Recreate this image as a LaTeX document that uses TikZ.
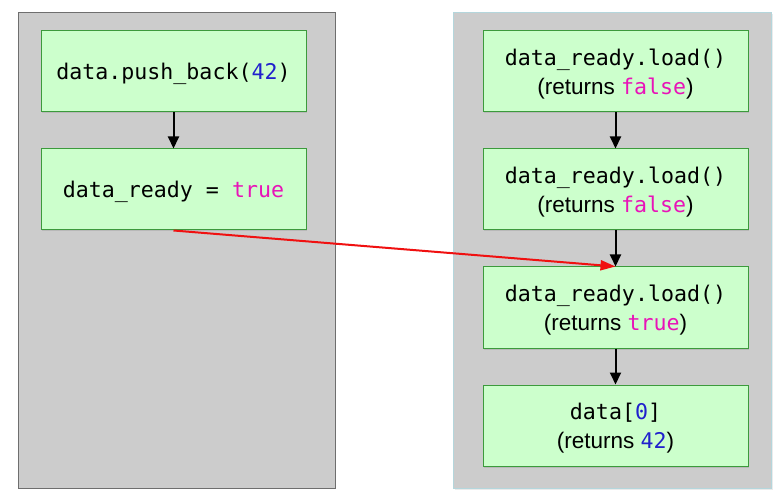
\documentclass[tikz,border=0pt]{standalone}
\usepackage{fontspec}
\setmainfont{Liberation Sans}
\setsansfont{Liberation Sans}
\setmonofont[Scale=0.96]{DejaVu Sans Mono}
\usetikzlibrary{arrows.meta,shadows}
\definecolor{panelfill}{HTML}{CCCCCC}
\definecolor{leftborder}{HTML}{6E6E6E}
\definecolor{rightborder}{HTML}{B4D6DC}
\definecolor{boxfill}{HTML}{CCFFCC}
\definecolor{boxborder}{HTML}{3C9A3C}
\definecolor{numblue}{HTML}{2020CC}
\definecolor{kwmag}{HTML}{E814B8}
\definecolor{arrred}{HTML}{F01010}
\newcommand{\num}[1]{\textcolor{numblue}{#1}}
\newcommand{\kw}[1]{\textcolor{kwmag}{#1}}
\begin{document}
\begin{tikzpicture}[x=1pt,y=-1pt,
  panel/.style={fill=panelfill, line width=1pt},
  opbox/.style={rectangle, draw=boxborder, fill=boxfill, line width=1pt,
    minimum width=265pt, minimum height=81pt, inner sep=0pt, align=center,
    text depth=0pt,
    font=\fontsize{22.5}{29}\selectfont,
    drop shadow={opacity=0.25, shadow xshift=1pt, shadow yshift=-1.5pt}},
  flow/.style={line width=2pt, -{Triangle[length=12pt,width=11pt]}},
  sync/.style={line width=2pt, draw=arrred, -{Triangle[length=15pt,width=10pt]}}
]
\useasboundingbox (0,0) rectangle (784,494);
\fill[white] (0,0) rectangle (784,494);
% panels
\draw[panel, draw=leftborder] (18.5,12.5) rectangle (335.5,488.5);
\fill[black, opacity=0.08] (455,14) rectangle (773,490);
\draw[panel, draw=rightborder] (453.5,12.5) rectangle (771.5,488.5);
% left thread
\node[opbox] (a1) at (173.5,71.5) {\texttt{data.push\_back(\num{42})}};
\node[opbox] (a2) at (173.5,189.5) {\texttt{data\_ready = \kw{true}}};
% right thread
\node[opbox] (b1) at (615.5,71.5) {\texttt{data\_ready.load()}\\(returns \texttt{\kw{false}})};
\node[opbox] (b2) at (615.5,189.5) {\texttt{data\_ready.load()}\\(returns \texttt{\kw{false}})};
\node[opbox] (b3) at (615.5,307.5) {\texttt{data\_ready.load()}\\(returns \texttt{\kw{true}})};
\node[opbox] (b4) at (615.5,425.5) {\texttt{data[\num{0}]}\\(returns \texttt{\num{42}})};
% arrows
\draw[flow] (a1.south) -- (a2.north);
\draw[flow] (b1.south) -- (b2.north);
\draw[flow] (b2.south) -- (b3.north);
\draw[flow] (b3.south) -- (b4.north);
\draw[sync] (a2.south) -- (b3.north);
\end{tikzpicture}
\end{document}
